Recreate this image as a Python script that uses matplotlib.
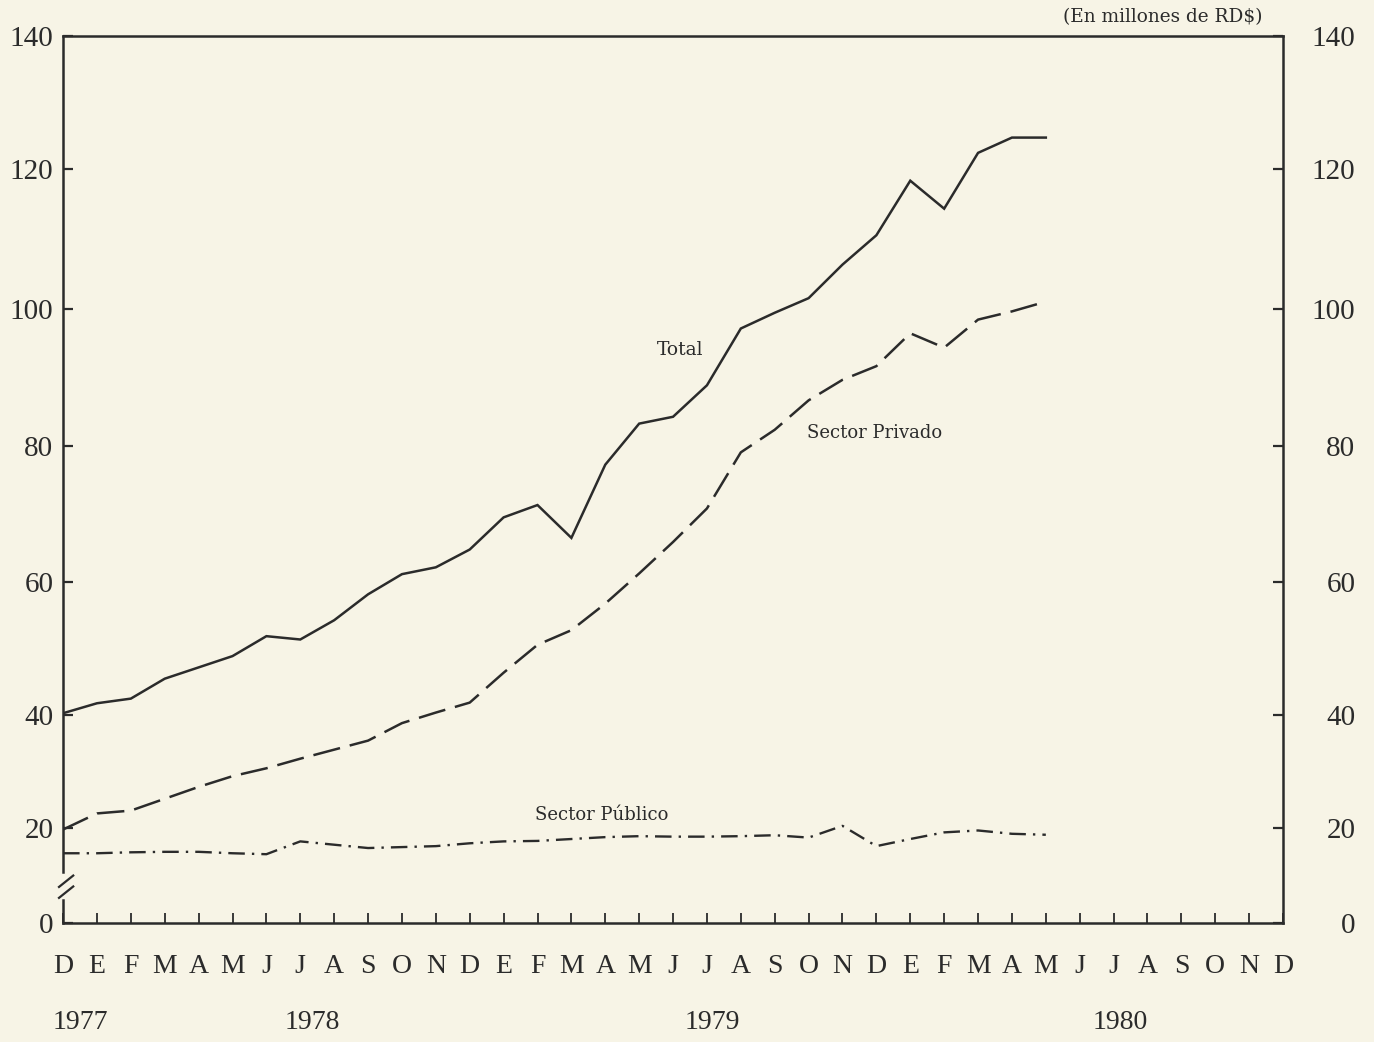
import numpy as np
import matplotlib
matplotlib.use("Agg")
import matplotlib.pyplot as plt
import matplotlib.transforms as mtransforms

# meses de D 1977 a D 1980
meses = ["D", "E", "F", "M", "A", "M", "J", "J", "A", "S", "O", "N",
         "D", "E", "F", "M", "A", "M", "J", "J", "A", "S", "O", "N",
         "D", "E", "F", "M", "A", "M", "J", "J", "A", "S", "O", "N", "D"]
anios = ["1977", "1978", "1979", "1980"]
anio_pos = [0.5, 7.35, 19.15, 31.2]

# valores (millones de RD$), dic 1977 - may 1980
total = [40.3, 41.8, 42.5, 45.5, 47.2, 48.9, 51.9, 51.4, 54.3, 58.2, 61.2, 62.2,
         64.8, 69.5, 71.3, 66.5, 77.2, 83.2, 84.2, 88.8, 97.1, 99.4, 101.5, 106.3,
         110.5, 118.3, 114.3, 122.4, 124.7, 124.7]
privado = [19.7, 22.6, 23.1, 25.2, 27.3, 29.2, 30.6, 32.3, 33.9, 35.5, 38.6, 40.4,
           41.9, 46.4, 50.6, 52.8, 56.8, 61.3, 65.9, 70.8, 79.0, 82.3, 86.6, 89.6,
           91.6, 96.4, 94.3, 98.4, 99.6, 101.0]
publico = [14.7, 14.7, 14.9, 15.0, 15.0, 14.7, 14.5, 17.2, 16.5, 15.8, 16.0, 16.2,
           16.8, 17.2, 17.3, 17.7, 18.1, 18.3, 18.2, 18.2, 18.3, 18.5, 18.0, 20.4,
           16.2, 17.7, 19.1, 19.5, 18.8, 18.6]

yticks = [0, 20, 40, 60, 80, 100, 120, 140]
# posicion de cada marca en el eje original (escala irregular con corte)
ypos = [0, 95, 208, 341, 478, 615, 755, 888]


def fwd(v):
    return np.interp(v, yticks, ypos)


def inv(p):
    return np.interp(p, ypos, yticks)


bg = "#f7f4e6"
ink = "#2b2b2b"

fig = plt.figure(figsize=(13.74, 10.42), dpi=100, facecolor=bg)
ax = fig.add_axes([0.0459, 0.1142, 0.8879, 0.8513], facecolor=bg)
ax.set_yscale("function", functions=(fwd, inv))
ax.set_ylim(0, 140)
ax.set_xlim(0, 36)

x = np.arange(len(total))
ax.plot(x, total, color=ink, lw=1.8, solid_joinstyle="miter")
ax.plot(x, privado, color=ink, lw=1.8, dashes=(11, 4))
ax.plot(x, publico, color=ink, lw=1.7, dashes=(7, 3, 1, 3))

ax.text(18.2, 93.9, "Total", family="DejaVu Serif", fontsize=13.5, color=ink,
        ha="center", va="center")
ax.text(23.95, 81.8, "Sector Privado", family="DejaVu Serif", fontsize=13, color=ink,
        ha="center", va="center")
ax.text(15.9, 22.3, "Sector Público", family="DejaVu Serif", fontsize=13, color=ink,
        ha="center", va="center")
trans = mtransforms.blended_transform_factory(ax.transData, ax.transAxes)
ax.text(32.45, 1.021, "(En millones de RD$)", family="DejaVu Serif", fontsize=13.3,
        color=ink, ha="center", va="center", transform=trans)

# eje x
ax.set_xticks(range(len(meses)))
ax.set_xticklabels(meses, family="Liberation Serif", fontsize=20, color=ink)
ax.tick_params(axis="x", direction="in", length=7, width=1.3, color=ink, pad=22)
for xp, a in zip(anio_pos, anios):
    ax.text(xp, -0.112, a, family="Liberation Serif", fontsize=20, color=ink,
            ha="center", va="center", transform=trans)

# eje y izquierdo
ax.set_yticks(yticks)
ax.set_yticklabels([str(v) for v in yticks], family="Liberation Serif", fontsize=21,
                   color=ink)
ax.tick_params(axis="y", direction="in", length=7, width=1.6, color=ink, pad=7)

for s in ["top", "bottom", "right"]:
    ax.spines[s].set_color(ink)
    ax.spines[s].set_linewidth(1.8)
ax.spines["left"].set_visible(False)
# eje izquierdo con corte
ax.plot([0, 0], [0, 4.8], color=ink, lw=1.8, clip_on=False)
ax.plot([0, 0], [10.7, 140], color=ink, lw=1.8, clip_on=False)
ax.plot([-0.12, 0.3], [5.3, 7.7], color=ink, lw=1.6, clip_on=False)
ax.plot([-0.12, 0.3], [7.6, 10.0], color=ink, lw=1.6, clip_on=False)

# eje y derecho
ax2 = ax.twinx()
ax2.set_yscale("function", functions=(fwd, inv))
ax2.set_ylim(0, 140)
ax2.set_yticks(yticks)
ax2.set_yticklabels([str(v) for v in yticks], family="Liberation Serif", fontsize=21,
                    color=ink, ha="right")
ax2.tick_params(axis="y", direction="in", length=7, width=1.6, color=ink, pad=52)
for s in ax2.spines.values():
    s.set_visible(False)

fig.savefig("out.png", dpi=100, facecolor=bg)
